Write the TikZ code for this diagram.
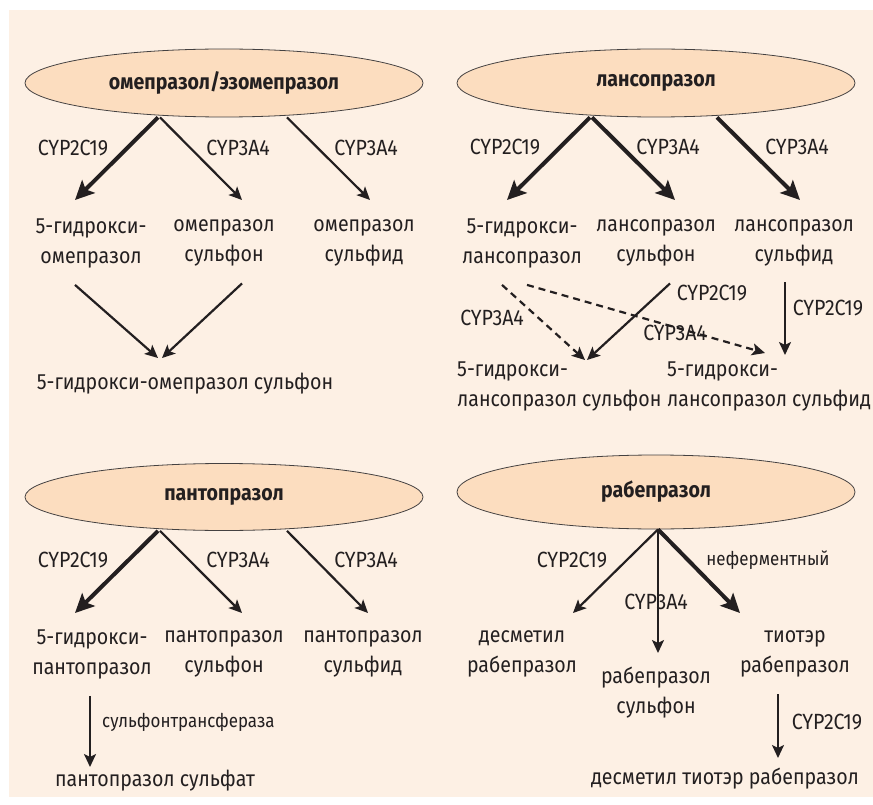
\documentclass[tikz,border=0pt]{standalone}
\usepackage{fontspec}
\setmainfont{Fira Sans}[FakeStretch=0.89]
\usepackage{tikz}
\usetikzlibrary{
  arrows.meta,
  positioning,
  shapes.geometric
}
\definecolor{panelbg}{HTML}{FDF0E4}
\definecolor{drugfill}{HTML}{FCDDBF}
\definecolor{ink}{HTML}{231F20}

\begin{document}
\begin{tikzpicture}[x=1pt, y=-1pt,
  drug/.style={ellipse, draw=ink!85, line width=0.8pt, fill=drugfill,
               minimum width=398pt, minimum height=68pt, inner sep=0pt,
               text=ink, font=\fontsize{22}{26}\selectfont\bfseries},
  prod/.style={align=center, inner sep=1pt, text=ink,
               font=\fontsize{22}{30}\selectfont},
  enz/.style={inner sep=1pt, text=ink, font=\fontsize{22}{26}\selectfont},
  enzsmall/.style={inner sep=1pt, text=ink, font=\fontsize{19}{22}\selectfont},
  minorpath/.style={draw=ink, line width=2.2pt,
                    -{Stealth[length=13pt, width=12pt, inset=3pt]}},
  majorpath/.style={draw=ink, line width=4pt,
                    -{Stealth[length=19pt, width=18pt, inset=4pt]}},
  dashpath/.style={minorpath, dash pattern=on 7pt off 5pt}
]
\useasboundingbox (0,0) rectangle (873,805);
\fill[panelbg] (9,10) rectangle (873,797);

% омепразол / эзомепразол
\node[drug] (ome) at (224,83) {омепразол/эзомепразол};
\node[prod] (ohyd)  at (91,243)  {5-гидрокси-\\омепразол};
\node[prod] (osulf) at (224,243) {омепразол\\сульфон};
\node[prod] (osid)  at (364,243) {омепразол\\сульфид};
\node[prod] (ohs)   at (185,384) {5-гидрокси-омепразол сульфон};
\coordinate (o1) at (75,200);
\coordinate (o2) at (242,200);
\coordinate (o3) at (370,200);
\coordinate (o4) at (158,358);
\coordinate (o5) at (162,358);
\draw[majorpath] ([xshift=-66pt]ome.south) -- (o1);
\draw[minorpath] ([xshift=-64pt]ome.south) -- (o2);
\draw[minorpath] ([xshift=63pt]ome.south) -- (o3);
\draw[minorpath] ([xshift=-16pt,yshift=-16pt]ohyd.south) -- (o4);
\draw[minorpath] ([xshift=18pt,yshift=-16pt]osulf.south) -- (o5);

% лансопразол
\node[drug] (lan) at (656,83) {лансопразол};
\node[prod] (lhyd)  at (522,243) {5-гидрокси-\\лансопразол};
\node[prod] (lsulf) at (656,243) {лансопразол\\сульфон};
\node[prod] (lsid)  at (794,243) {лансопразол\\сульфид};
\node[prod, align=left, anchor=west] (lhs)  at (456,386) {5-гидрокси-\\лансопразол сульфон};
\node[prod, align=left, anchor=west] (lhsd) at (666,386) {5-гидрокси-\\лансопразол сульфид};
\coordinate (l1) at (507,200);
\coordinate (l2) at (675,200);
\coordinate (l3) at (800,200);
\coordinate (l4) at (585,360);
\coordinate (l5) at (765,353);
\coordinate (l6) at (587,360);
\coordinate (l7) at (785,355);
\draw[majorpath] ([xshift=-66pt]lan.south) -- (l1);
\draw[majorpath] ([xshift=-64pt]lan.south) -- (l2);
\draw[majorpath] ([xshift=61pt]lan.south) -- (l3);
\draw[dashpath] ([xshift=-20pt,yshift=-16pt]lhyd.south) -- (l4);
\draw[dashpath] ([xshift=5pt,yshift=-16pt]lhyd.south) -- (l5);
\draw[minorpath] ([xshift=14pt,yshift=-16pt]lsulf.south) -- (l6);
\draw[minorpath] ([xshift=-9pt,yshift=-15pt]lsid.south) -- (l7);

% пантопразол
\node[drug, minimum height=67pt] (pan) at (224,497) {пантопразол};
\node[prod] (phyd)  at (92,654)  {5-гидрокси-\\пантопразол};
\node[prod] (psulf) at (224,654) {пантопразол\\сульфон};
\node[prod] (psid)  at (363,654) {пантопразол\\сульфид};
\node[prod] (psfat) at (155,781) {пантопразол сульфат};
\node[enzsmall, anchor=west] (sult) at (101,722) {сульфонтрансфераза};
\coordinate (p1) at (75,613);
\coordinate (p2) at (242,613);
\coordinate (p3) at (368,613);
\coordinate (p4) at (90,767);
\draw[majorpath] ([xshift=-66pt]pan.south) -- (p1);
\draw[minorpath] ([xshift=-64pt]pan.south) -- (p2);
\draw[minorpath] ([xshift=63pt]pan.south) -- (p3);
\draw[minorpath] ([xshift=-2pt,yshift=-16pt]phyd.south) -- (p4);

% рабепразол
\node[drug, minimum height=74pt] (rab) at (656,492) {рабепразол};
\node[prod] (rdes)  at (522,654) {десметил\\рабепразол};
\node[prod] (rsulf) at (656,693) {рабепразол\\сульфон};
\node[prod] (rtio)  at (795,654) {тиотэр\\рабепразол};
\node[prod] (rdtio) at (725,779) {десметил тиотэр рабепразол};
\node[enzsmall] (nonenz) at (768,560) {неферментный};
\coordinate (r1) at (573,613);
\coordinate (r2) at (658,653);
\coordinate (r3) at (740,613);
\coordinate (r4) at (778,758);
\draw[minorpath] ([xshift=2pt]rab.south) -- (r1);
\draw[minorpath] ([xshift=2pt]rab.south) -- (r2);
\draw[majorpath] ([xshift=2pt]rab.south) -- (r3);
\draw[minorpath] ([xshift=-17pt,yshift=-16pt]rtio.south) -- (r4);

% enzyme labels
\foreach \x/\y/\t [count=\i] in {73/148/CYP2C19, 238/148/CYP3A4, 366/148/CYP3A4,
    505/147/CYP2C19, 668/147/CYP3A4, 797/147/CYP3A4,
    492/318/CYP3A4, 712/293/CYP2C19, 675/333/CYP3A4, 828/308/CYP2C19,
    73/560/CYP2C19, 238/560/CYP3A4, 366/560/CYP3A4,
    572/560/CYP2C19, 656/602/CYP3A4, 827/722/CYP2C19}{
  \node[enz] (enz\i) at (\x,\y) {\t};
}
\end{tikzpicture}
\end{document}
